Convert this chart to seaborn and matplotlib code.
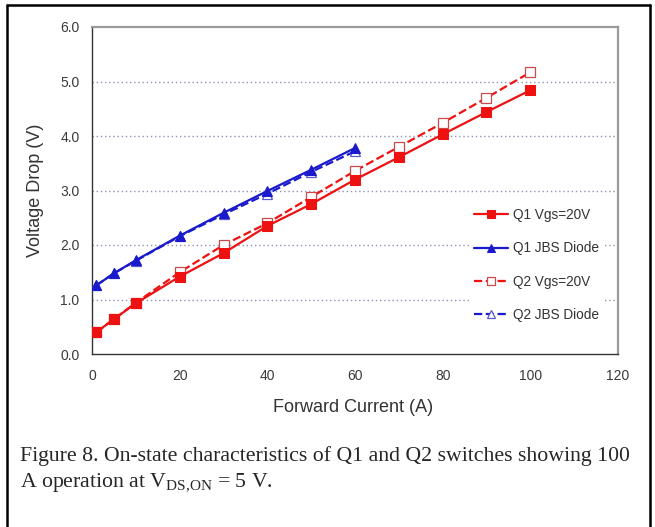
import matplotlib
matplotlib.use("Agg")
import matplotlib.pyplot as plt
from matplotlib.lines import Line2D
from matplotlib.ticker import MultipleLocator, FormatStrFormatter
import seaborn as sns

sns.set_theme(style="white")
plt.rcParams["font.family"] = ["Liberation Sans", "DejaVu Sans"]
plt.rcParams["mathtext.fontset"] = "custom"
plt.rcParams["mathtext.rm"] = "Liberation Serif"

# Forward current (A) and voltage drop (V) for each device
q1_mos_i = [1, 5, 10, 20, 30, 40, 50, 60, 70, 80, 90, 100]
q1_mos_v = [0.40, 0.64, 0.93, 1.42, 1.85, 2.35, 2.75, 3.20, 3.61, 4.03, 4.44, 4.84]
q2_mos_i = [1, 5, 10, 20, 30, 40, 50, 60, 70, 80, 90, 100]
q2_mos_v = [0.40, 0.64, 0.94, 1.50, 2.00, 2.40, 2.88, 3.36, 3.80, 4.24, 4.70, 5.17]
q1_jbs_i = [1, 5, 10, 20, 30, 40, 50, 60]
q1_jbs_v = [1.26, 1.48, 1.72, 2.17, 2.59, 2.99, 3.38, 3.78]
q2_jbs_i = [1, 5, 10, 20, 30, 40, 50, 60]
q2_jbs_v = [1.26, 1.48, 1.71, 2.16, 2.56, 2.94, 3.34, 3.72]

labels = ["Q1 Vgs=20V", "Q1 JBS Diode", "Q2 Vgs=20V", "Q2 JBS Diode"]
x_ticks = [0, 20, 40, 60, 80, 100, 120]
y_ticks = [0.0, 1.0, 2.0, 3.0, 4.0, 5.0, 6.0]

RED = "#ee1111"
BLUE = "#1a1acc"

fig = plt.figure(figsize=(6.55, 5.27), dpi=100)
ax = fig.add_axes([92 / 655, 1 - 354 / 527, 526 / 655, 327 / 527])

# dotted horizontal gridlines
for yv in y_ticks[1:-1]:
    ax.axhline(yv, color="#8d94b0", lw=1.0, ls=(0, (1, 2)), zorder=0)

sns.lineplot(x=q1_mos_i, y=q1_mos_v, ax=ax, color=RED, lw=1.6, marker="s",
             markersize=7, markeredgecolor=RED, label=labels[0], zorder=4)
sns.lineplot(x=q1_jbs_i, y=q1_jbs_v, ax=ax, color=BLUE, lw=1.6, marker="^",
             markersize=7.5, markeredgecolor=BLUE, label=labels[1], zorder=4)
sns.lineplot(x=q2_mos_i, y=q2_mos_v, ax=ax, color=RED, lw=1.6, linestyle="--",
             marker="s", markersize=7, markerfacecolor="white",
             markeredgecolor="#c84a4a", markeredgewidth=0.9, label=labels[2], zorder=3)
sns.lineplot(x=q2_jbs_i, y=q2_jbs_v, ax=ax, color=BLUE, lw=1.6, linestyle="--",
             marker="^", markersize=7.5, markerfacecolor="white",
             markeredgecolor="#5a5acc", markeredgewidth=0.9, label=labels[3], zorder=3)

ax.set_xlim(0, 120)
ax.set_ylim(0, 6)
ax.set_xticks(x_ticks)
ax.set_yticks(y_ticks)
ax.xaxis.set_minor_locator(MultipleLocator(4))
ax.yaxis.set_minor_locator(MultipleLocator(0.2))
ax.yaxis.set_major_formatter(FormatStrFormatter("%.1f"))
ax.tick_params(axis="both", which="both", direction="in", length=4, width=0.8,
               color="#444444", labelsize=10, labelcolor="#3a3a3a")
ax.tick_params(axis="x", which="major", pad=11)
ax.tick_params(axis="y", which="major", pad=9)

for side in ("left", "bottom"):
    ax.spines[side].set_color("#333333")
    ax.spines[side].set_linewidth(1.0)
for side in ("top", "right"):
    ax.spines[side].set_color("#9a9a9a")
    ax.spines[side].set_linewidth(1.6)
    ax.spines[side].set_visible(True)

ax.set_xlabel("Forward Current (A)", fontsize=13, color="#333333")
ax.set_ylabel("Voltage Drop (V)", fontsize=13, color="#333333")
ax.xaxis.set_label_coords((353 - 92) / 526, -(399 - 354) / 327)
ax.yaxis.set_label_coords(-(92 - 44) / 526, (354 - 190) / 327)

leg = ax.legend(loc="center right", bbox_to_anchor=(0.985, 0.272), frameon=True,
                fontsize=9.8, labelspacing=1.42, handlelength=2.5, handletextpad=0.35,
                borderpad=0.3, markerscale=0.85)
leg.get_frame().set_facecolor("white")
leg.get_frame().set_edgecolor("none")
leg.get_frame().set_alpha(1)
for t in leg.get_texts():
    t.set_color("#333333")

# caption block in serif type
fig.text(20 / 655, 1 - 456 / 527,
         "Figure 8. On-state characteristics of Q1 and Q2 switches showing 100",
         fontsize=15.7, family="Liberation Serif", va="center", ha="left")
fig.text(20 / 655, 1 - 483 / 527,
         r"A operation at V$_{\rm DS{,}ON}$ = 5 V.",
         fontsize=15.7, family="Liberation Serif", va="center", ha="left")

# frame around the figure panel (open at the bottom)
frame_kw = dict(color="black", lw=1.8, transform=fig.transFigure, clip_on=False)
fig.add_artist(Line2D([7 / 655, 7 / 655], [1 - 5 / 527, -0.05], **frame_kw))
fig.add_artist(Line2D([650 / 655, 650 / 655], [1 - 5 / 527, -0.05], **frame_kw))
fig.add_artist(Line2D([7 / 655, 650 / 655], [1 - 5 / 527, 1 - 5 / 527], **frame_kw))

fig.savefig("out.png", dpi=100)
